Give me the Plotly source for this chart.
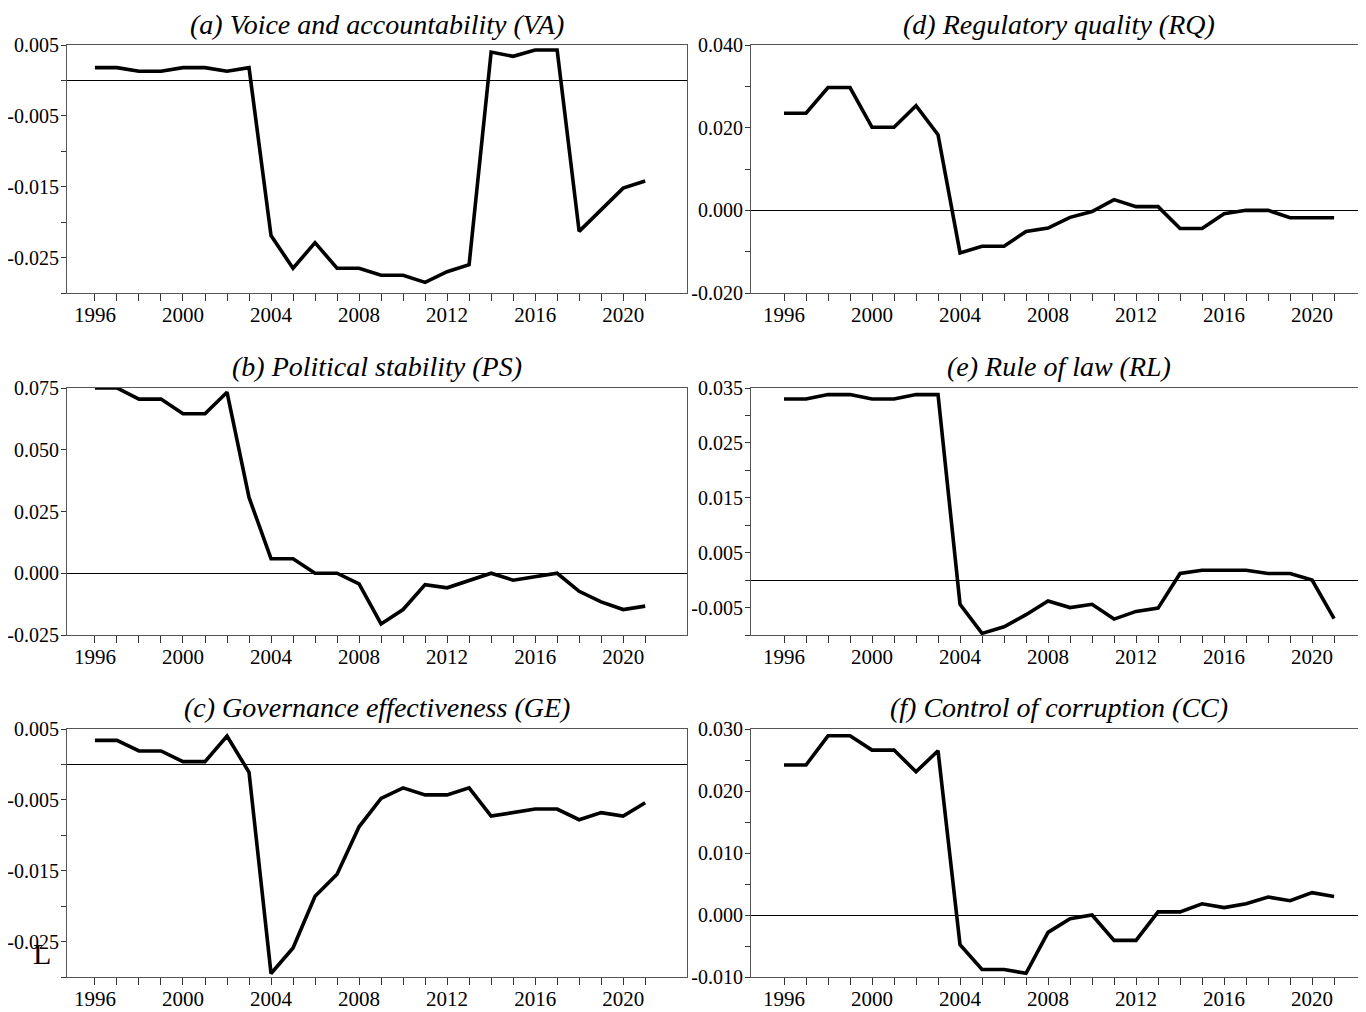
import plotly.graph_objects as go

years = list(range(1996, 2022))

va = [0.0018, 0.0018, 0.0013, 0.0013, 0.0018, 0.0018, 0.0013, 0.0018, -0.0219, -0.0265,
      -0.0229, -0.0265, -0.0265, -0.0275, -0.0275, -0.0285, -0.0270, -0.0260, 0.0040, 0.0034,
      0.0043, 0.0043, -0.0213, -0.0182, -0.0152, -0.0142]
ps = [0.0750, 0.0750, 0.0705, 0.0705, 0.0646, 0.0646, 0.0733, 0.0307, 0.0059, 0.0059,
      0.0000, 0.0000, -0.0043, -0.0205, -0.0147, -0.0046, -0.0059, -0.0028, 0.0000, -0.0028,
      -0.0015, 0.0000, -0.0073, -0.0116, -0.0147, -0.0133]
ge = [0.0034, 0.0034, 0.0019, 0.0019, 0.0004, 0.0004, 0.0040, -0.0011, -0.0295, -0.0259,
      -0.0186, -0.0155, -0.0088, -0.0048, -0.0033, -0.0043, -0.0043, -0.0033, -0.0073, -0.0068,
      -0.0063, -0.0063, -0.0078, -0.0068, -0.0073, -0.0054]
rq = [0.0235, 0.0235, 0.0297, 0.0297, 0.0201, 0.0201, 0.0253, 0.0183, -0.0103, -0.0087,
      -0.0087, -0.0051, -0.0043, -0.0017, -0.0003, 0.0026, 0.0009, 0.0009, -0.0044, -0.0044,
      -0.0008, 0.0000, 0.0000, -0.0018, -0.0018, -0.0018]
rl = [0.0330, 0.0330, 0.0338, 0.0338, 0.0330, 0.0330, 0.0338, 0.0338, -0.0044, -0.0097,
      -0.0085, -0.0063, -0.0038, -0.0050, -0.0044, -0.0071, -0.0057, -0.0051, 0.0012, 0.0018,
      0.0018, 0.0018, 0.0012, 0.0012, 0.0000, -0.0070]
cc = [0.0242, 0.0242, 0.0289, 0.0289, 0.0266, 0.0266, 0.0231, 0.0265, -0.0048, -0.0088,
      -0.0088, -0.0094, -0.0028, -0.0006, 0.0000, -0.0041, -0.0041, 0.0005, 0.0005, 0.0018,
      0.0012, 0.0018, 0.0029, 0.0023, 0.0036, 0.0030]

titles = ["(a) Voice and accountability (VA)", "(b) Political stability (PS)",
          "(c) Governance effectiveness (GE)", "(d) Regulatory quality (RQ)",
          "(e) Rule of law (RL)", "(f) Control of corruption (CC)"]

va_ticks = [0.005, -0.005, -0.015, -0.025]
ps_ticks = [0.075, 0.050, 0.025, 0.000, -0.025]
ge_ticks = [0.005, -0.005, -0.015, -0.025]
rq_ticks = [0.040, 0.020, 0.000, -0.020]
rl_ticks = [0.035, 0.025, 0.015, 0.005, -0.005]
cc_ticks = [0.030, 0.020, 0.010, 0.000, -0.010]

va_minor = [0.000, -0.010, -0.020, -0.030]
ps_minor = []
ge_minor = [0.000, -0.010, -0.020, -0.030]
rq_minor = [0.030, 0.010, -0.010]
rl_minor = [0.030, 0.020, 0.010, 0.000, -0.010]
cc_minor = [0.025, 0.015, 0.005, -0.005]

x_labels = [1996, 2000, 2004, 2008, 2012, 2016, 2020]

# page body has an 8px margin: size the figure so it ends at the window edge
OFF = 8
W, H = 1366 - OFF, 1012 - OFF
FONT = "Liberation Serif, Times New Roman, serif"


def px_x(p):
    return min(max((p - OFF) / W, 0.0), 1.0)


def px_y(p):
    return min(max(1 - (p - OFF) / H, 0.0), 1.0)


# (series, ticks, minor, y range, column, row)
panels = [
    (va, va_ticks, va_minor, [-0.030, 0.005], 0, 0),
    (ps, ps_ticks, ps_minor, [-0.025, 0.075], 0, 1),
    (ge, ge_ticks, ge_minor, [-0.030, 0.005], 0, 2),
    (rq, rq_ticks, rq_minor, [-0.020, 0.040], 1, 0),
    (rl, rl_ticks, rl_minor, [-0.010, 0.035], 1, 1),
    (cc, cc_ticks, cc_minor, [-0.010, 0.030], 1, 2),
]

col_px = [(67, 687), (751, 1366)]
col_xrange = [[1994.73, 2022.9], [1994.5, 2022.45]]
row_px = [(45, 293), (388, 635), (729, 977)]
title_gap = [20, 22, 22]

fig = go.Figure()
layout = {}
annotations = []
for i, (series, ticks, minor, yr, c, r) in enumerate(panels):
    n = "" if i == 0 else str(i + 1)
    x0, x1 = col_px[c]
    y0, y1 = row_px[r]
    fig.add_trace(go.Scatter(x=years, y=series, mode="lines",
                             line=dict(color="black", width=3.6),
                             xaxis="x" + n, yaxis="y" + n, showlegend=False))
    xtt = [str(y) if y in x_labels else "" for y in years]
    yt = ticks + minor
    ytt = [f"{v:.3f}" for v in ticks] + ["" for _ in minor]
    layout["xaxis" + n] = dict(
        domain=[px_x(x0), px_x(x1)], range=col_xrange[c], anchor="y" + n,
        tickmode="array", tickvals=years, ticktext=xtt, ticks="outside", ticklen=7,
        ticklabelstandoff=-4, automargin=False,
        tickcolor="#333", tickwidth=1, showgrid=False, zeroline=False,
        showline=True, mirror=True, linecolor="#555", linewidth=1,
        tickfont=dict(family=FONT, size=21, color="black"))
    layout["yaxis" + n] = dict(
        domain=[px_y(y1), px_y(y0)], range=yr, anchor="x" + n,
        tickmode="array", tickvals=yt, ticktext=ytt, ticks="outside", ticklen=5,
        ticklabelstandoff=-2, automargin=False,
        tickcolor="#333", tickwidth=1, showgrid=False,
        zeroline=True, zerolinecolor="black", zerolinewidth=1,
        showline=True, mirror=True, linecolor="#555", linewidth=1,
        tickfont=dict(family=FONT, size=20, color="black"))
    annotations.append(dict(
        text=titles[i], xref="paper", yref="paper",
        x=(px_x(x0) + px_x(x1)) / 2, y=px_y(y0 - title_gap[r]),
        xanchor="center", yanchor="middle", showarrow=False, borderpad=0,
        font=dict(family=FONT, size=28, color="black", style="italic")))

annotations.append(dict(text="L", xref="paper", yref="paper", x=px_x(42), y=px_y(953),
                        xanchor="center", yanchor="middle", showarrow=False,
                        font=dict(family=FONT, size=30, color="black")))

fig.update_layout(**layout)
fig.update_layout(width=W, height=H, margin=dict(l=0, r=0, t=0, b=0, pad=0, autoexpand=False),
                  paper_bgcolor="white", plot_bgcolor="white",
                  annotations=annotations, font=dict(family=FONT, color="black"))
fig.write_html("out.html")
